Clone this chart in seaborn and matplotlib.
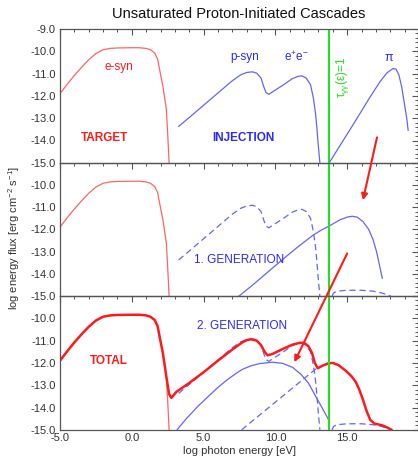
import matplotlib
matplotlib.use('Agg')
import matplotlib.pyplot as plt
import seaborn as sns
import numpy as np
import pandas as pd
from matplotlib.ticker import MultipleLocator

# Unsaturated proton-initiated cascades: three stacked panels
# (injection / 1st generation / 2nd generation + total)

# electron synchrotron target photons (same in every panel)
esyn_x = [-5.0, -4.5, -4.0, -3.5, -3.0, -2.5, -2.0, -1.5, -1.0, 0.0, 0.5, 1.0, 1.3, 1.6,
          1.8, 1.94, 2.17, 2.41, 2.5, 2.6]
esyn_y = [-11.9, -11.48, -11.08, -10.72, -10.38, -10.1, -9.93, -9.87, -9.85, -9.84, -9.84,
          -9.87, -9.93, -10.08, -10.35, -10.83, -11.58, -12.63, -13.7, -15.0]

# injected p-synchrotron + pair spectrum
psyn_x = [3.26, 4.0, 5.0, 6.0, 7.0, 7.6, 8.0, 8.4, 8.7, 9.0, 9.2, 9.35, 9.55, 9.8, 10.5,
          11.2, 11.6, 11.85, 12.15, 12.45, 12.65, 12.8, 12.9, 13.0, 13.1]
psyn_y = [-13.37, -12.97, -12.42, -11.87, -11.32, -11.05, -10.95, -10.92, -10.98, -11.2,
          -11.6, -11.85, -11.93, -11.82, -11.53, -11.22, -11.12, -11.1, -11.2, -11.5,
          -12.1, -12.8, -13.5, -14.3, -15.0]

# injected pion-decay photons
pion_x = [13.75, 14.5, 15.5, 16.5, 17.3, 17.8, 18.2, 18.4, 18.6, 18.8, 19.0, 19.15, 19.25]
pion_y = [-15.0, -14.23, -13.2, -12.15, -11.35, -10.95, -10.77, -10.8, -11.05, -11.6,
          -12.4, -13.0, -13.55]

# 1st generation
gen1_x = [7.45, 8.5, 9.5, 10.5, 11.5, 12.6, 13.2, 13.75, 14.5, 15.0, 15.35, 15.7, 16.1,
          16.5, 16.8, 17.05, 17.25, 17.45]
gen1_y = [-15.0, -14.45, -13.9, -13.35, -12.82, -12.27, -12.03, -11.85, -11.57, -11.45,
          -11.41, -11.45, -11.65, -12.0, -12.45, -13.0, -13.6, -14.2]

# absorbed pion part after 1st generation
flat_x = [13.95, 14.05, 14.3, 15.0, 16.0, 16.8, 17.4, 17.8, 18.05]
flat_y = [-15.0, -14.85, -14.77, -14.73, -14.73, -14.77, -14.85, -14.93, -15.0]

# 1st generation below the absorption edge (bottom panel)
gen1b_x = [7.65, 10.3, 12.95]
gen1b_y = [-15.0, -13.6, -12.2]

# 2nd generation
gen2_x = [3.15, 3.8, 4.6, 5.4, 6.0, 6.6, 7.2, 7.7, 8.3, 8.9, 9.8, 10.5, 11.2, 11.8,
          12.3, 12.7, 13.2, 13.75]
gen2_y = [-15.0, -14.5, -13.95, -13.46, -13.1, -12.78, -12.5, -12.29, -12.13, -12.03,
          -11.97, -12.02, -12.2, -12.52, -12.9, -13.37, -13.95, -14.6]

# total spectrum
total_x = [-5.0, -4.5, -4.0, -3.5, -3.0, -2.5, -2.0, -1.5, -1.0, 0.0, 0.5, 1.0, 1.3, 1.6,
           1.8, 1.94, 2.17, 2.41, 2.6, 2.76, 2.95, 3.1, 4.0, 5.0, 6.0, 7.0, 7.7, 8.0, 8.3,
           8.7, 9.0, 9.25, 9.45, 9.8, 10.5, 11.2, 11.7, 12.0, 12.3, 12.55, 12.75, 12.95,
           13.3, 13.7, 14.0, 14.4, 14.9, 15.3, 15.6, 15.85, 16.1, 16.35, 16.6, 16.9,
           17.45, 17.8, 18.1]
total_y = [-11.9, -11.48, -11.08, -10.72, -10.38, -10.1, -9.93, -9.87, -9.85, -9.84,
           -9.84, -9.87, -9.93, -10.08, -10.35, -10.83, -11.58, -12.63, -13.4, -13.57,
           -13.42, -13.3, -12.9, -12.42, -11.9, -11.4, -11.08, -10.98, -10.94, -11.0,
           -11.2, -11.5, -11.66, -11.6, -11.38, -11.18, -11.1, -11.1, -11.25, -11.55,
           -12.0, -12.24, -12.12, -12.02, -12.0, -12.1, -12.35, -12.6, -12.85, -13.2,
           -13.65, -14.15, -14.55, -14.72, -14.8, -14.9, -15.0]

tau_x = 13.75
ytick_vals = [-9.0, -10.0, -11.0, -12.0, -13.0, -14.0, -15.0]
xtick_vals = [-5.0, 0.0, 5.0, 10.0, 15.0]

LRED = '#ff6464'
LBLUE = '#6464ff'
RED = '#ff1a1a'
BLUE = '#2a2aff'
GREEN = '#22e022'

sns.set_style("white")
plt.rcParams['font.family'] = ['Liberation Sans', 'DejaVu Sans']
plt.rcParams['mathtext.fontset'] = 'custom'
plt.rcParams['mathtext.rm'] = 'Liberation Sans'
plt.rcParams['mathtext.it'] = 'Liberation Sans:italic'

fig = plt.figure(figsize=(4.18, 4.57), dpi=100)
W, H = 418.0, 457.0
left = 60 / W
width = (417.5 - 60) / W
tops = [29, 162.5, 296]
h = 133.8 / H
axes = []
for t in tops:
    ax = fig.add_axes([left, 1 - (t + 133.8) / H, width, h])
    axes.append(ax)
ax_top, ax_mid, ax_bot = axes


def curve(ax, xs, ys, color, lw=0.9, ls='-'):
    df = pd.DataFrame({'x': xs, 'y': ys})
    sns.lineplot(data=df, x='x', y='y', ax=ax, color=color, lw=lw, linestyle=ls,
                 sort=False, estimator=None)


dash = (0, (5, 3))

# top: injection
curve(ax_top, esyn_x, esyn_y, LRED)
curve(ax_top, psyn_x, psyn_y, LBLUE)
curve(ax_top, pion_x, pion_y, LBLUE)

# middle: 1st generation
curve(ax_mid, esyn_x, esyn_y, LRED)
curve(ax_mid, psyn_x, psyn_y, LBLUE, ls=dash)
curve(ax_mid, flat_x, flat_y, LBLUE, ls=dash)
curve(ax_mid, gen1_x, gen1_y, LBLUE)

# bottom: 2nd generation + total
curve(ax_bot, esyn_x, esyn_y, LRED)
curve(ax_bot, psyn_x, psyn_y, LBLUE, ls=dash)
curve(ax_bot, gen1b_x, gen1b_y, LBLUE, ls=dash)
curve(ax_bot, flat_x, flat_y, LBLUE, ls=dash)
curve(ax_bot, gen2_x, gen2_y, LBLUE)
curve(ax_bot, total_x, total_y, RED, lw=1.8)

for i, ax in enumerate(axes):
    ax.axvline(tau_x, color=GREEN, lw=1.5)
    ax.set_xlim(-5, 19.9)
    ax.set_ylim(-15, -9)
    ax.set_xlabel('')
    ax.set_ylabel('')
    ax.set_yticks(ytick_vals)
    if i == 0:
        ax.set_yticklabels([f'{v:.1f}' for v in ytick_vals])
    else:
        ax.set_yticklabels([''] + [f'{v:.1f}' for v in ytick_vals[1:]])
    ax.set_xticks(xtick_vals)
    if i == 2:
        ax.set_xticklabels([f'{v:.1f}' for v in xtick_vals])
    else:
        ax.set_xticklabels([])
    ax.xaxis.set_minor_locator(MultipleLocator(1))
    ax.yaxis.set_minor_locator(MultipleLocator(0.2))
    ax.tick_params(which='both', direction='in', top=True, right=True,
                   color='#555555', labelsize=8, labelcolor='#333333', pad=3)
    ax.tick_params(axis='x', pad=2)
    ax.tick_params(which='major', length=4, width=0.8)
    ax.tick_params(which='minor', length=2.5, width=0.7)
    for sp in ax.spines.values():
        sp.set_color('#555555')
        sp.set_linewidth(0.9)
    ax.set_facecolor('none')

# labels
ax_top.text(-0.9, -10.7, 'e-syn', color=RED, fontsize=8.5, ha='center', va='center')
ax_top.text(-1.9, -13.9, 'TARGET', color=RED, fontsize=8.5, fontweight='bold',
            ha='center', va='center')
ax_top.text(7.85, -10.25, 'p-syn', color=BLUE, fontsize=8.5, ha='center', va='center')
ax_top.text(11.5, -10.25, r'e$^{+}$e$^{-}$', color=BLUE, fontsize=8.5, ha='center',
            va='center')
ax_top.text(17.9, -10.3, '\u03c0', color=BLUE, fontsize=9, ha='center', va='center')
ax_top.text(7.8, -13.9, 'INJECTION', color=BLUE, fontsize=8.5, fontweight='bold',
            ha='center', va='center')
ax_top.text(14.7, -11.15, r'$\mathregular{\tau_{\gamma\gamma}(\epsilon)}$=1', color=GREEN,
            fontsize=8.5, rotation=90, ha='center', va='center')
ax_mid.text(7.5, -13.37, '1. GENERATION', color=BLUE, fontsize=8.5, ha='center',
            va='center')
ax_bot.text(7.7, -10.35, '2. GENERATION', color=BLUE, fontsize=8.5, ha='center',
            va='center')
ax_bot.text(-1.6, -11.9, 'TOTAL', color=RED, fontsize=8.5, fontweight='bold',
            ha='center', va='center')

# arrows crossing the panel borders
arrow = dict(arrowstyle='-|>', color=RED, lw=1.5, mutation_scale=9, shrinkA=0, shrinkB=0)
ax_mid.annotate('', xy=(16.1, -10.69), xycoords=ax_mid.transData,
                xytext=(17.08, -13.86), textcoords=ax_top.transData,
                arrowprops=arrow, annotation_clip=False)
ax_bot.annotate('', xy=(11.32, -11.97), xycoords=ax_bot.transData,
                xytext=(15.0, -13.08), textcoords=ax_mid.transData,
                arrowprops=arrow, annotation_clip=False)

fig.text(0.5 * (left + 1.0), 1 - 14 / H, 'Unsaturated Proton-Initiated Cascades',
         ha='center', va='center', fontsize=10.5, color='#111111')
fig.text(14 / W, 1 - 238 / H, r'log energy flux [erg cm$^{-2}$ s$^{-1}$]', rotation=90,
         ha='center', va='center', fontsize=8, color='#333333')
fig.text(0.5 * (left + 1.0), 1 - 451 / H, 'log photon energy [eV]', ha='center',
         va='center', fontsize=8, color='#333333')

plt.savefig('out.png', dpi=100)
